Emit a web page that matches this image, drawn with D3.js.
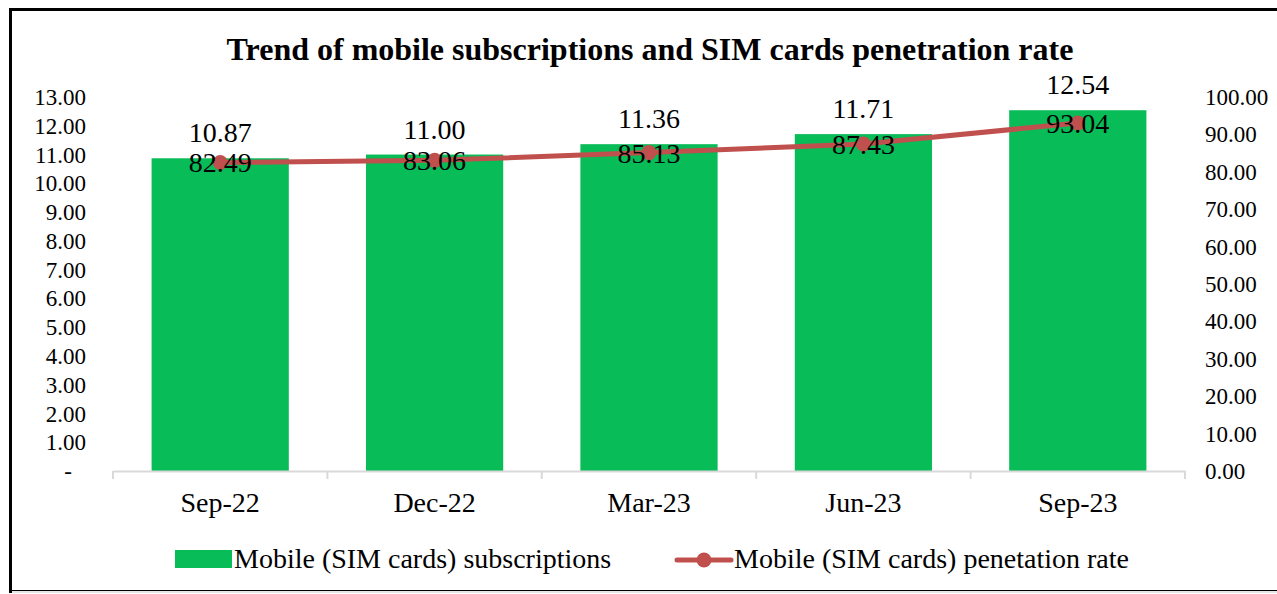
<!DOCTYPE html>
<html><head><meta charset="utf-8">
<script src="https://cdn.jsdelivr.net/npm/d3@7"></script>
<style>body{margin:0;background:#fff}svg{display:block}</style>
</head><body>
<svg id="c" width="1277" height="594"></svg>
<script>
const categories = ["Sep-22","Dec-22","Mar-23","Jun-23","Sep-23"];
const subscriptions = [10.87, 11.00, 11.36, 11.71, 12.54];
const penetration = [82.49, 83.06, 85.13, 87.43, 93.04];
const leftTicks = [0,1,2,3,4,5,6,7,8,9,10,11,12,13];
const rightTicks = [0,10,20,30,40,50,60,70,80,90,100];
const title = "Trend of mobile subscriptions and SIM cards penetration rate";
const seriesNames = ["Mobile (SIM cards) subscriptions","Mobile (SIM cards) penetation rate"];

const FONT = "'Liberation Serif','Times New Roman',serif";
const svg = d3.select("#c");
const W = 1277, H = 594;
const plot = {l:113, r:1185, t:97, b:471};
const barColor = "#08BC58", lineColor = "#C0504D";

// frame
svg.append("rect").attr("x",10.5).attr("y",9.5).attr("width",1300).attr("height",582)
  .attr("fill","none").attr("stroke","#000").attr("stroke-width",3);
svg.append("line").attr("x1",12).attr("x2",W).attr("y1",592).attr("y2",592).attr("stroke","#e6e6e6").attr("stroke-width",2);

const x = d3.scaleBand().domain(categories).range([plot.l, plot.r]).paddingInner(0.36).paddingOuter(0.18);
const xc = d3.scaleBand().domain(categories).range([plot.l, plot.r]);
const yL = d3.scaleLinear().domain([0,13]).range([plot.b, plot.t]);
const yR = d3.scaleLinear().domain([0,100]).range([plot.b, plot.t]);

svg.append("text").attr("x",650).attr("y",60).attr("text-anchor","middle")
  .attr("font-family",FONT).attr("font-weight","bold").attr("font-size",32).text(title);

// left axis
const gL = svg.append("g").attr("transform",`translate(${plot.l-27},0)`)
  .call(d3.axisLeft(yL).tickValues(leftTicks).tickSize(0).tickPadding(0)
    .tickFormat(d => d===0 ? "-" : d3.format(".2f")(d)));
gL.select(".domain").remove();
gL.selectAll("text").attr("font-family",FONT).attr("font-size",23).attr("fill","#000").attr("dy","0.33em");
gL.selectAll(".tick").filter(d=>d===0).select("text").attr("dx",-14);

// right axis
const gR = svg.append("g").attr("transform",`translate(${plot.r+20},0)`)
  .call(d3.axisRight(yR).tickValues(rightTicks).tickSize(0).tickPadding(0).tickFormat(d3.format(".2f")));
gR.select(".domain").remove();
gR.selectAll("text").attr("font-family",FONT).attr("font-size",23).attr("fill","#000").attr("dy","0.33em");

// bars
svg.append("g").selectAll("rect").data(categories).join("rect")
  .attr("x",d=>x(d)).attr("width",x.bandwidth())
  .attr("y",(d,i)=>yL(subscriptions[i])).attr("height",(d,i)=>plot.b-yL(subscriptions[i]))
  .attr("fill",barColor);

// x axis
const gX = svg.append("g").attr("transform",`translate(0,${plot.b})`)
  .call(d3.axisBottom(xc).tickSize(0).tickPadding(21));
gX.select(".domain").attr("stroke","#d9d9d9").attr("stroke-width",2);
gX.selectAll("text").attr("font-family",FONT).attr("font-size",28).attr("fill","#000");
svg.append("g").selectAll("line").data(d3.range(categories.length+1)).join("line")
  .attr("x1",i=>plot.l+i*xc.step()).attr("x2",i=>plot.l+i*xc.step())
  .attr("y1",plot.b).attr("y2",plot.b+8).attr("stroke","#d9d9d9").attr("stroke-width",2);

// line
const cx = d => xc(d)+xc.bandwidth()/2;
svg.append("path").datum(categories)
  .attr("d", d3.line().x(cx).y((d,i)=>yR(penetration[i])))
  .attr("fill","none").attr("stroke",lineColor).attr("stroke-width",5).attr("stroke-linecap","round");
svg.append("g").selectAll("circle").data(categories).join("circle")
  .attr("cx",cx).attr("cy",(d,i)=>yR(penetration[i])).attr("r",7.5).attr("fill",lineColor);

// labels
svg.append("g").selectAll("text").data(categories).join("text")
  .attr("x",cx).attr("y",(d,i)=>yL(subscriptions[i])-16).attr("text-anchor","middle")
  .attr("font-family",FONT).attr("font-size",28).text((d,i)=>d3.format(".2f")(subscriptions[i]));
svg.append("g").selectAll("text").data(categories).join("text")
  .attr("x",cx).attr("y",(d,i)=>yR(penetration[i])+10).attr("text-anchor","middle")
  .attr("font-family",FONT).attr("font-size",28).text((d,i)=>d3.format(".2f")(penetration[i]));

// legend
const lg = svg.append("g");
lg.append("rect").attr("x",175).attr("y",550).attr("width",57).attr("height",18).attr("fill",barColor);
lg.append("text").attr("x",234).attr("y",568).attr("font-family",FONT).attr("font-size",28).text(seriesNames[0]);
lg.append("line").attr("x1",677).attr("x2",731).attr("y1",560).attr("y2",560).attr("stroke",lineColor).attr("stroke-width",5).attr("stroke-linecap","round");
lg.append("circle").attr("cx",704).attr("cy",560).attr("r",7.5).attr("fill",lineColor);
lg.append("text").attr("x",734).attr("y",568).attr("font-family",FONT).attr("font-size",28).text(seriesNames[1]);
</script>
</body></html>
